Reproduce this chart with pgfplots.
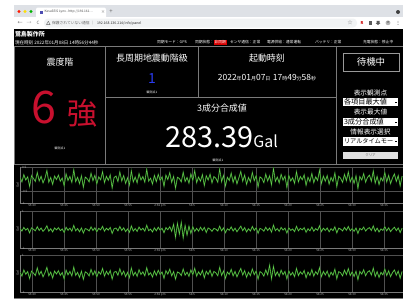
\documentclass[border=0pt]{standalone}
\usepackage{pgfplots}
\pgfplotsset{compat=1.18}
\usepackage{pgfplotstable}
\usepackage{fontspec}
\setmainfont{Noto Sans CJK JP}
\newcommand\fs[1]{\fontsize{#1}{#1}\selectfont}
\definecolor{chrome}{HTML}{DEE1E6}
\definecolor{urlbg}{HTML}{F1F3F4}
\definecolor{sindo}{HTML}{C8102E}
\definecolor{lpblue}{HTML}{2A3BF0}
\definecolor{frame}{HTML}{7A7A7A}
\definecolor{wave}{RGB}{104,212,80}
\definecolor{wavedark}{RGB}{34,92,28}
\definecolor{gridc}{HTML}{505050}
\definecolor{tickc}{HTML}{B0B0B0}

\pgfplotstableread[row sep=\\]{v\\
0.05\\-0.12\\0.18\\-0.04\\0.09\\-0.31\\0.14\\0.02\\-0.10\\0.27\\-0.08\\0.11\\-0.16\\0.03\\0.35\\-0.13\\0.06\\-0.22\\0.12\\-0.02\\
0.16\\-0.09\\0.04\\-0.28\\0.21\\-0.06\\0.10\\-0.14\\0.38\\-0.11\\0.07\\-0.19\\0.13\\-0.34\\0.08\\0.01\\-0.12\\0.24\\-0.07\\0.15\\
-0.20\\0.09\\-0.03\\0.30\\-0.15\\0.11\\-0.05\\0.17\\-0.37\\0.06\\0.12\\-0.10\\0.29\\-0.08\\0.14\\-0.18\\0.05\\-0.25\\0.33\\-0.12\\
0.08\\-0.16\\0.22\\-0.04\\0.10\\-0.13\\0.40\\-0.09\\0.03\\-0.21\\0.15\\-0.11\\0.19\\-0.06\\0.09\\-0.30\\0.16\\-0.02\\0.26\\-0.14\\
0.11\\-0.38\\0.07\\0.02\\-0.12\\0.28\\-0.10\\0.06\\-0.17\\0.21\\-0.05\\0.34\\-0.15\\0.08\\-0.09\\0.18\\-0.27\\0.13\\-0.04\\0.20\\
-0.16\\0.10\\0.03\\-0.13\\0.41\\-0.11\\0.15\\-0.29\\0.07\\-0.06\\0.24\\-0.14\\0.12\\-0.20\\0.05\\0.31\\-0.09\\0.16\\-0.22\\0.06\\
-0.12\\0.27\\-0.07\\0.14\\-0.33\\0.09\\0.02\\-0.15\\0.20\\-0.08\\0.13\\-0.24\\0.44\\-0.10\\0.08\\-0.16\\0.19\\-0.05\\0.12\\-0.35\\
0.15\\-0.08\\0.05\\-0.18\\0.30\\-0.12\\0.10\\-0.03\\0.17\\-0.26\\0.07\\-0.11\\0.23\\-0.15\\0.09\\-0.06\\0.36\\-0.19\\0.12\\-0.09\\
0.14\\-0.21\\0.06\\-0.10\\0.25\\-0.32\\0.11\\0.03\\-0.14\\0.19\\-0.07\\0.29\\-0.12\\0.08\\-0.18\\0.13\\-0.39\\0.10\\-0.04\\0.22\\
-0.13\\0.07\\0.16\\-0.09\\0.33\\-0.17\\0.11\\-0.23\\0.05\\-0.08\\0.27\\-0.12\\0.15\\-0.19\\0.04\\0.21\\-0.10\\0.14\\-0.28\\0.12\\
}\sigA
\pgfplotstableread[row sep=\\]{v\\
0.04\\-0.08\\0.11\\-0.03\\0.06\\-0.18\\0.09\\0.01\\-0.07\\0.15\\-0.05\\0.08\\-0.10\\0.02\\0.20\\-0.09\\0.04\\-0.13\\0.08\\-0.02\\
0.10\\-0.06\\0.03\\-0.16\\0.12\\-0.04\\0.07\\-0.09\\0.22\\-0.07\\0.05\\-0.12\\0.08\\-0.19\\0.05\\0.01\\-0.08\\0.14\\-0.05\\0.09\\
-0.12\\0.06\\-0.02\\0.17\\-0.09\\0.07\\-0.03\\0.11\\-0.21\\0.04\\0.08\\-0.07\\0.16\\-0.05\\0.09\\-0.11\\0.03\\-0.15\\0.19\\-0.08\\
0.05\\-0.10\\0.13\\-0.03\\0.07\\-0.09\\0.23\\-0.06\\0.02\\-0.13\\0.09\\-0.07\\0.12\\-0.04\\0.06\\-0.17\\0.10\\-0.01\\0.15\\-0.09\\
0.28\\-0.42\\0.33\\-0.25\\0.38\\-0.45\\0.22\\-0.30\\0.18\\-0.21\\0.15\\-0.10\\0.06\\-0.09\\0.12\\-0.05\\0.11\\-0.16\\0.08\\0.02\\
-0.10\\0.06\\0.02\\-0.08\\0.18\\-0.07\\0.09\\-0.17\\0.04\\-0.04\\0.14\\-0.08\\0.07\\-0.12\\0.03\\0.18\\-0.06\\0.10\\-0.13\\0.04\\
-0.08\\0.16\\-0.05\\0.09\\-0.20\\0.06\\0.01\\-0.09\\0.12\\-0.05\\0.08\\-0.14\\0.24\\-0.06\\0.05\\-0.10\\0.11\\-0.03\\0.07\\-0.19\\
0.09\\-0.05\\0.03\\-0.11\\0.17\\-0.07\\0.06\\-0.02\\0.10\\-0.15\\0.04\\-0.07\\0.13\\-0.09\\0.05\\-0.04\\0.20\\-0.11\\0.07\\-0.05\\
0.08\\-0.12\\0.04\\-0.06\\0.14\\-0.18\\0.07\\0.02\\-0.08\\0.11\\-0.04\\0.16\\-0.07\\0.05\\-0.10\\0.08\\-0.21\\0.06\\-0.02\\0.13\\
-0.08\\0.04\\0.10\\-0.05\\0.19\\-0.10\\0.07\\-0.13\\0.03\\-0.05\\0.15\\-0.07\\0.09\\-0.11\\0.02\\0.12\\-0.06\\0.08\\-0.16\\0.07\\
}\sigB
\pgfplotstableread[row sep=\\]{v\\
0.06\\-0.14\\0.19\\-0.04\\0.10\\-0.27\\0.13\\0.02\\-0.11\\0.30\\-0.07\\0.12\\-0.18\\0.04\\0.33\\-0.12\\0.07\\-0.24\\0.13\\-0.03\\
0.15\\-0.10\\0.05\\-0.29\\0.18\\-0.07\\0.11\\-0.13\\0.34\\-0.10\\0.06\\-0.21\\0.12\\-0.31\\0.09\\0.02\\-0.13\\0.22\\-0.08\\0.14\\
-0.18\\0.10\\-0.04\\0.27\\-0.14\\0.12\\-0.06\\0.16\\-0.30\\0.07\\0.11\\-0.09\\0.25\\-0.07\\0.13\\-0.17\\0.06\\-0.22\\0.29\\-0.11\\
0.07\\-0.15\\0.20\\-0.05\\0.09\\-0.12\\0.31\\-0.08\\0.04\\-0.19\\0.14\\-0.10\\0.17\\-0.05\\0.08\\-0.26\\0.15\\-0.03\\0.23\\-0.13\\
0.10\\-0.30\\0.08\\0.03\\-0.11\\0.24\\-0.09\\0.07\\-0.15\\0.19\\-0.06\\0.28\\-0.14\\0.09\\-0.08\\0.17\\-0.23\\0.12\\-0.05\\0.18\\
-0.15\\0.11\\0.04\\-0.12\\0.33\\-0.10\\0.14\\-0.26\\0.08\\-0.05\\0.22\\-0.13\\0.11\\-0.18\\0.06\\0.27\\-0.08\\0.15\\-0.20\\0.07\\
-0.11\\0.24\\-0.06\\0.13\\-0.30\\0.10\\0.03\\-0.14\\0.19\\-0.07\\0.45\\-0.28\\0.38\\-0.12\\0.09\\-0.15\\0.18\\-0.06\\0.11\\-0.29\\
0.14\\-0.09\\0.06\\-0.17\\0.27\\-0.11\\0.09\\-0.04\\0.16\\-0.23\\0.08\\-0.10\\0.21\\-0.14\\0.10\\-0.05\\0.31\\-0.17\\0.11\\-0.08\\
0.13\\-0.19\\0.07\\-0.09\\0.23\\-0.28\\0.10\\0.04\\-0.13\\0.18\\-0.06\\0.26\\-0.11\\0.09\\-0.16\\0.12\\-0.33\\0.11\\-0.03\\0.20\\
-0.12\\0.08\\0.15\\-0.08\\0.29\\-0.16\\0.10\\-0.21\\0.06\\-0.07\\0.24\\-0.11\\0.14\\-0.17\\0.05\\0.19\\-0.09\\0.13\\-0.25\\0.11\\
}\sigC

\pgfplotsset{wavestyle/.style={
  scale only axis, width=383bp, xmin=20, xmax=403,
  axis lines*=left, axis line style={draw=frame, line width=0.5bp},
  grid=major, grid style={draw=gridc, line width=0.5bp},
  major tick length=0pt,
  xtick={32,64,...,384},
  xticklabels={55:40,55:45,55:50,55:55,2:56 pm,56:5,56:10,56:15,56:20,56:25,56:30,56:35},
  tick label style={font=\fs{3}, text=tickc},
  xticklabel style={inner sep=0.8bp},
  yticklabel style={anchor=west, inner sep=0.5bp, xshift=1.5bp},
  ylabel={Gal},
  every axis y label/.style={at={(axis description cs:0,0.5)}, rotate=90, anchor=south, inner sep=1bp, font=\fs{3.2}, text=tickc},
  clip=true,
}}

\begin{document}
\begin{tikzpicture}
\path[use as bounding box] (0,0) rectangle (403bp,-300bp);
\clip (0,0) rectangle (403bp,-300bp);
\begin{scope}[x=1bp,y=-1bp, every node/.style={inner sep=0pt, outer sep=0pt}]
\fill[white] (0,0) rectangle (403,300);
% browser chrome
\fill[chrome] (14,5) rectangle (403,17);
\fill[white, rounded corners=2bp] (36,7.5) rectangle (106,20);
\fill[white] (14,17) rectangle (403,29);
\fill[red!80!orange] (19,11.5) circle (1.7);
\fill[yellow!80!orange] (25,11.5) circle (1.7);
\fill[green!70!black] (31,11.5) circle (1.7);
\fill[blue!40!gray] (39.5,10.5) rectangle (42.5,13.5);
\node[anchor=west, font=\fs{3.2}, text=black!70] at (44.5,12) {KesuSEIS Lynx - http://192.161…};
\node[font=\fs{4}, text=black!60] at (103,12) {×};
\node[font=\fs{6}, text=black!60] at (111,11.8) {+};
\node[font=\fs{5}, text=black!60] at (20,22.8) {←};
\node[font=\fs{5}, text=black!35] at (29,22.8) {→};
\node[font=\fs{4.5}, text=black!60] at (38,22.8) {C};
\fill[urlbg, rounded corners=4bp] (44,18.5) rectangle (357,27.5);
\draw[black!60, line width=0.4bp, line join=round] (46.5,24.6) -- (48.3,21.2) -- (50.1,24.6) -- cycle;
\node[anchor=west, font=\fs{3.8}, text=black!60] at (52,23) {保護されていない通信 ｜};
\node[anchor=west, font=\fs{3.5}, text=black!85] at (97,23) {192.168.136.214/info/panel};
\node[font=\fs{5}, text=black!55] at (350,22.7) {☆};
\node[font=\fs{4}, text=red!80!black] at (362,22.8) {\bfseries R};
\fill[black!65] (368.5,21) rectangle (371.5,24.5);
\fill[black!65] (376.5,20.8) -- (379.5,20.8) -- (379.5,23) -- (380.5,23) -- (378,25) -- (375.5,23) -- (376.5,23) -- cycle;
\fill[black!30] (388,22.8) circle (2.4);
\fill[black!60] (388,21.9) circle (0.9);
\fill[black!70] (398,21.2) circle (0.4) (398,22.8) circle (0.4) (398,24.4) circle (0.4);
\fill[black!75] (398,12) circle (2);
% body
\fill[black] (14,29) rectangle (403,298);
\node[anchor=west, font=\fs{6}\bfseries, text=white] at (15,33.8) {鷺島製作所};
\node[anchor=west, font=\fs{4.6}, text=white] at (15,42.5) {現在時刻 2022年01月08日 14時56分44秒};
\begin{scope}[every node/.append style={anchor=west, font=\fs{3.8}, text=white}]
\node at (157,42.5) {同期モード：GPS};
\node at (195,42.5) {同期状態：};
\fill[red!85!black] (214,40) rectangle (226.5,45);
\node at (214.5,42.5) {非同期};
\node at (230,42.5) {センサ通信：正常};
\node at (267,42.5) {電源供給：通常運転};
\node at (315,42.5) {バッテリ：正常};
\node at (363,42.5) {充電状態：停止中};
\end{scope}
% panel frames
\begin{scope}[draw=frame, line width=0.6bp]
\draw (14.3,46) -- (403,46);
\draw (14.3,46) -- (14.3,164);
\draw (14.3,164) -- (403,164);
\draw (105,46) -- (105,164);
\draw (198,46) -- (198,97);
\draw (336,46) -- (336,164);
\draw (105,97) -- (336,97);
\draw (14.3,298) -- (403,298);
\end{scope}
% panel 1
\node[font=\fs{9}, text=white] at (60,62) {震度階};
\node[font=\fs{45}, text=sindo, anchor=base] at (44,123) {6};
\node[font=\fs{30}, text=sindo] at (82,113) {強};
\node[font=\fs{3}, text=white] at (60,148) {観測点1};
% panel 2
\node[font=\fs{9}, text=white] at (152,58) {長周期地震動階級};
\node[font=\fs{14}, text=lpblue, anchor=base] at (152,83) {1};
\node[font=\fs{3}, text=white] at (152,92) {観測点1};
% panel 3
\node[font=\fs{9}, text=white] at (267,58) {起動時刻};
\node[anchor=base, text=white] at (267,80) {\fs{8.5}2022\fs{5}年\fs{8.5}01\fs{5}月\fs{8.5}07\fs{5}日\hspace{2.5bp}\fs{8.5}17\fs{5}時\fs{8.5}49\fs{5}分\fs{8.5}58\fs{5}秒};
% panel 4
\node[font=\fs{9}, text=white] at (222,108) {3成分合成値};
\node[anchor=base, text=white] at (221.5,147) {\fs{29}283.39\fs{16}Gal};
\node[font=\fs{3}, text=white] at (218,160) {観測点1};
% right panel
\draw[black!40!white, line width=0.7bp] (343,53) rectangle (399,71);
\node[font=\fs{9.5}, text=white] at (371,62) {待機中};
\node[font=\fs{6.7}, text=white] at (370.5,93) {表示観測点};
\fill[white] (343,98) rectangle (398,106);
\node[anchor=west, font=\fs{7.2}, text=black] at (344,102) {各項目最大値};
\fill[black] (394.5,101.5) rectangle (396.5,102.5);
\node[font=\fs{6.7}, text=white] at (370.5,112) {表示最大値};
\fill[white] (343,118) rectangle (398,126);
\node[anchor=west, font=\fs{7.2}, text=black] at (344,122) {3成分合成値};
\fill[black] (394.5,121.5) rectangle (396.5,122.5);
\node[font=\fs{6.7}, text=white] at (370.5,131.5) {情報表示選択};
\fill[white] (343,137) rectangle (398,146);
\node[anchor=west, font=\fs{6.2}, text=black] at (344,141.5) {リアルタイムモー};
\fill[black] (395,141) rectangle (397,142);
\fill[black!12] (343,152) rectangle (398,159);
\node[font=\fs{3.5}, text=black!60] at (370.5,155.5) {クリア};
\end{scope}

% waveforms
\begin{axis}[wavestyle, at={(20bp,-167bp)}, anchor=north west, height=36bp,
  ymin=-1, ymax=0.5, ytick={-1,-0.5,0.5}, yticklabels={-1,-0.5,0.5}]
\addplot[wavedark, line width=1.1bp, no marks] table[x expr=20+1.92*\coordindex, y=v] {\sigA};
\addplot[wave, line width=0.4bp, no marks] table[x expr=20+1.92*\coordindex, y=v] {\sigA};
\end{axis}
\begin{axis}[wavestyle, at={(20bp,-211bp)}, anchor=north west, height=37bp,
  ymin=-1, ymax=1, ytick={-1,1}, yticklabels={-1,1}]
\addplot[wavedark, line width=1.1bp, no marks] table[x expr=20+1.92*\coordindex, y=v] {\sigB};
\addplot[wave, line width=0.4bp, no marks] table[x expr=20+1.92*\coordindex, y=v] {\sigB};
\end{axis}
\begin{axis}[wavestyle, at={(20bp,-255bp)}, anchor=north west, height=37bp,
  ymin=-1, ymax=1, ytick={-1,1}, yticklabels={-1,1}]
\addplot[wavedark, line width=1.1bp, no marks] table[x expr=20+1.92*\coordindex, y=v] {\sigC};
\addplot[wave, line width=0.4bp, no marks] table[x expr=20+1.92*\coordindex, y=v] {\sigC};
\end{axis}
\end{tikzpicture}
\end{document}
